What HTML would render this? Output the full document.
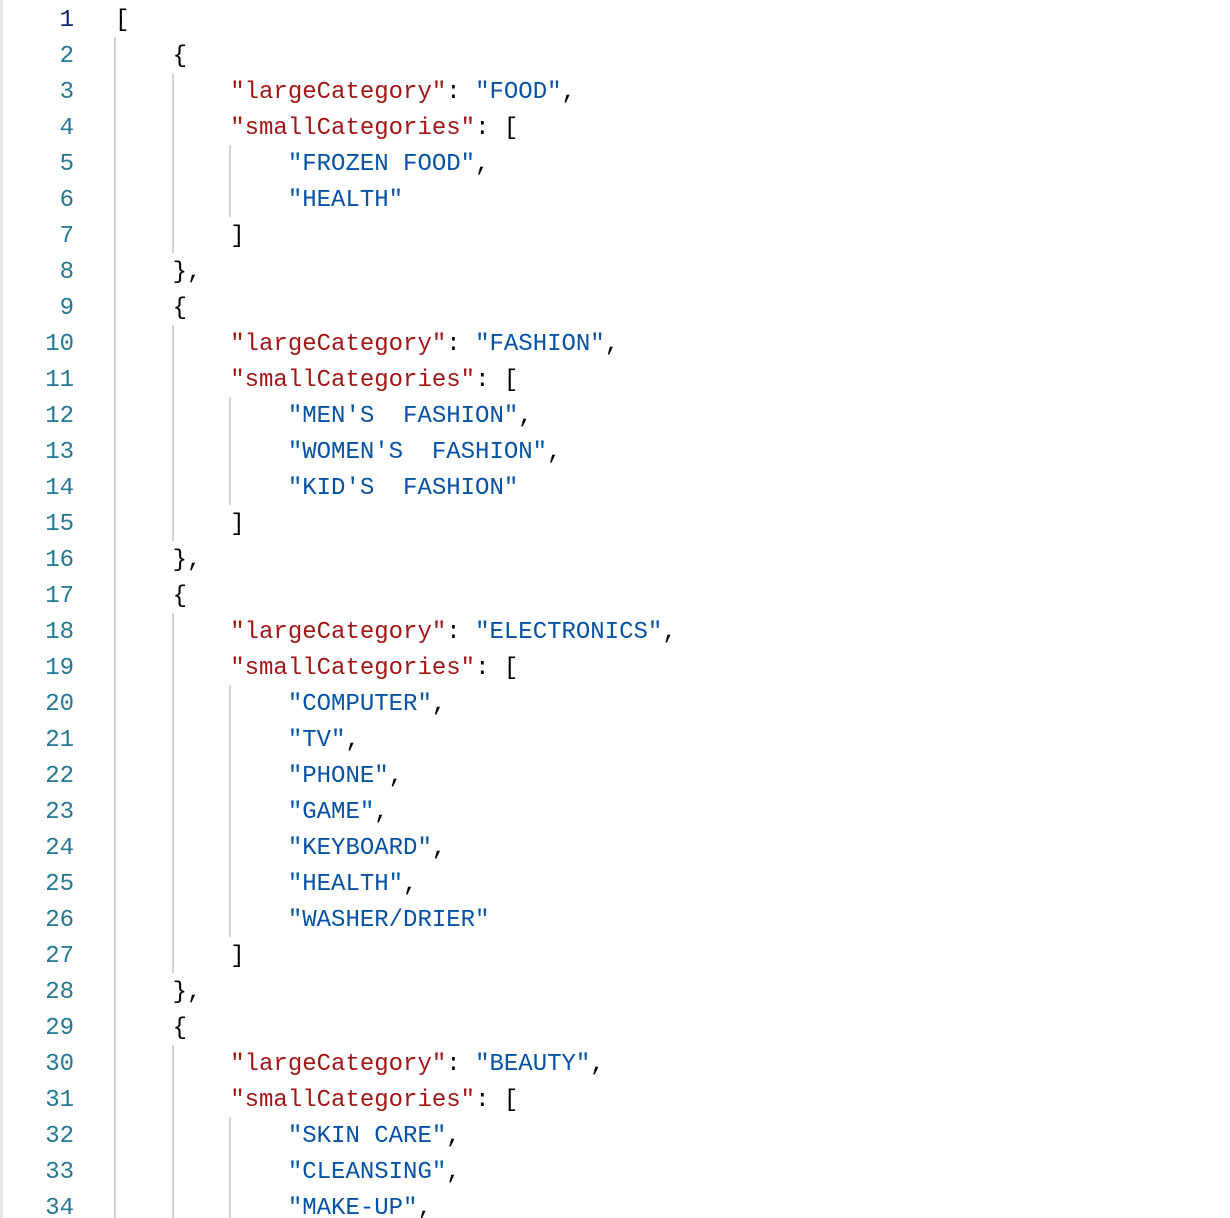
<!DOCTYPE html>
<html><head><meta charset="utf-8"><style>
html,body{margin:0;padding:0;background:#fff;width:1230px;height:1218px;overflow:hidden;position:relative}
.b{position:absolute;left:0;top:0;width:3px;height:1218px;background:#e8e8e8}
.ln{position:absolute;left:0;width:74px;text-align:right;font:24px "Liberation Mono",monospace;color:#237893;height:36px;line-height:36px}
.c{position:absolute;left:115px;font:24px "Liberation Mono",monospace;white-space:pre;height:36px;line-height:36px;color:#000}
.k{color:#a31515}.s{color:#0451a5}
.g{position:absolute;width:2px;background:#d3d3d3}
</style></head><body>
<div class="b"></div>
<div id="r"></div>
<script>
var L=[
'[',
'    {',
'        <span class="k">"largeCategory"</span>: <span class="s">"FOOD"</span>,',
'        <span class="k">"smallCategories"</span>: [',
'            <span class="s">"FROZEN FOOD"</span>,',
'            <span class="s">"HEALTH"</span>',
'        ]',
'    },',
'    {',
'        <span class="k">"largeCategory"</span>: <span class="s">"FASHION"</span>,',
'        <span class="k">"smallCategories"</span>: [',
'            <span class="s">"MEN\'S  FASHION"</span>,',
'            <span class="s">"WOMEN\'S  FASHION"</span>,',
'            <span class="s">"KID\'S  FASHION"</span>',
'        ]',
'    },',
'    {',
'        <span class="k">"largeCategory"</span>: <span class="s">"ELECTRONICS"</span>,',
'        <span class="k">"smallCategories"</span>: [',
'            <span class="s">"COMPUTER"</span>,',
'            <span class="s">"TV"</span>,',
'            <span class="s">"PHONE"</span>,',
'            <span class="s">"GAME"</span>,',
'            <span class="s">"KEYBOARD"</span>,',
'            <span class="s">"HEALTH"</span>,',
'            <span class="s">"WASHER/DRIER"</span>',
'        ]',
'    },',
'    {',
'        <span class="k">"largeCategory"</span>: <span class="s">"BEAUTY"</span>,',
'        <span class="k">"smallCategories"</span>: [',
'            <span class="s">"SKIN CARE"</span>,',
'            <span class="s">"CLEANSING"</span>,',
'            <span class="s">"MAKE-UP"</span>,'
];
var h='';
for(var i=0;i<L.length;i++){var t=3+36*i;
h+='<div class="ln" style="top:'+t+'px'+(i==0?';color:#0b216f':'')+'">'+(i+1)+'</div>';
h+='<div class="c" style="top:'+t+'px">'+L[i]+'</div>';}
function g(x,a,b){var t=1+36*(a-1),e=1+36*b;h+='<div class="g" style="left:'+x+'px;top:'+t+'px;height:'+(e-t)+'px"></div>';}
g(114,2,34);
g(172,3,7);g(229,5,6);
g(172,10,15);g(229,12,14);
g(172,18,27);g(229,20,26);
g(172,30,34);g(229,32,34);
document.getElementById('r').innerHTML=h;
</script>
</body></html>
